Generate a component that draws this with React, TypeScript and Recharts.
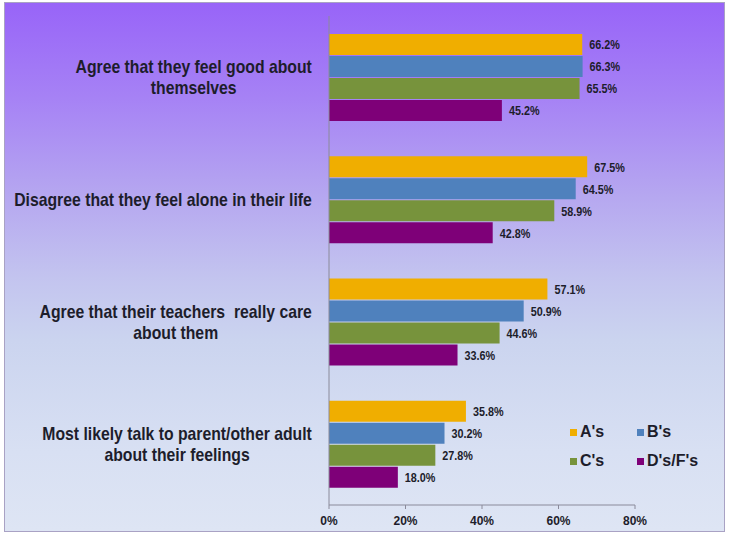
import React from "react";
import { BarChart, Bar, XAxis, YAxis, LabelList, Legend } from "recharts";

const categories = [
  "Agree that they feel good about\nthemselves",
  "Disagree that they feel alone in their life",
  "Agree that their teachers  really care\nabout them",
  "Most likely talk to parent/other adult\nabout their feelings",
];
const seriesNames = ["A's", "B's", "C's", "D's/F's"];
const aValues = [66.2, 67.5, 57.1, 35.8];
const bValues = [66.3, 64.5, 50.9, 30.2];
const cValues = [65.5, 58.9, 44.6, 27.8];
const dfValues = [45.2, 42.8, 33.6, 18.0];
const xTicks = [0, 20, 40, 60, 80];

const seriesKeys = ["a", "b", "c", "df"];
const seriesColors = ["#F0AE00", "#4F81BD", "#77933C", "#7E0078"];

const data = categories.map((category, i) => ({
  category,
  a: aValues[i],
  b: bValues[i],
  c: cValues[i],
  df: dfValues[i],
}));

const TEXT = "#1d1d2b";
const FONT = '"Liberation Sans", Arial, sans-serif';
const CAT_FONT_SIZE = 19;
const CAT_SCALE = 0.83;
const LBL_FONT_SIZE = 13.5;
const LBL_SCALE = 0.8;

let ctx: CanvasRenderingContext2D | null = null;
function measure(text: string, font: string): number {
  if (!ctx) ctx = document.createElement("canvas").getContext("2d");
  if (!ctx) return text.length * 9;
  ctx.font = font;
  return ctx.measureText(text).width;
}

const CategoryTick = (props: any) => {
  const { x, y, payload } = props;
  const lines: string[] = String(payload.value).split("\n");
  const font = `bold ${CAT_FONT_SIZE}px ${FONT}`;
  const blockW = Math.max(...lines.map((l) => measure(l, font))) * CAT_SCALE;
  const cx = x - blockW / 2;
  const lh = 21;
  const startY = -((lines.length - 1) * lh) / 2;
  return (
    <g transform={`translate(${cx},${y}) scale(${CAT_SCALE},1)`}>
      <text
        x={0}
        y={startY}
        textAnchor="middle"
        fill={TEXT}
        style={{ fontFamily: FONT, fontWeight: "bold", fontSize: CAT_FONT_SIZE, whiteSpace: "pre" }}
      >
        {lines.map((l, i) => (
          <tspan key={i} x={0} y={startY + i * lh} dy="0.36em">
            {l}
          </tspan>
        ))}
      </text>
    </g>
  );
};

const BarValueLabel = (props: any) => {
  const { x, y, width, height, value } = props;
  const lx = Number(x) + Number(width) + 7;
  const ly = Number(y) + Number(height) / 2;
  return (
    <g transform={`translate(${lx},${ly}) scale(${LBL_SCALE},1)`}>
      <text
        x={0}
        y={0}
        dy="0.36em"
        textAnchor="start"
        fill={TEXT}
        style={{ fontFamily: FONT, fontWeight: "bold", fontSize: LBL_FONT_SIZE }}
      >
        {`${Number(value).toFixed(1)}%`}
      </text>
    </g>
  );
};

const renderLegend = () => (
  <div
    style={{
      display: "grid",
      gridTemplateColumns: "67px 80px",
      rowGap: "11px",
      fontFamily: FONT,
      fontWeight: "bold",
      fontSize: 16,
      color: TEXT,
    }}
  >
    {seriesNames.map((name, i) => (
      <div key={name} style={{ display: "flex", alignItems: "center", height: 18 }}>
        <span
          style={{
            display: "inline-block",
            width: 7,
            height: 7,
            background: seriesColors[i],
            marginRight: 3,
          }}
        />
        <span>{name}</span>
      </div>
    ))}
  </div>
);

export default function App() {
  return (
    <div style={{ position: "absolute", left: 0, top: 0, width: 729, height: 533, background: "#ffffff" }}>
      <div
        style={{
          position: "absolute",
          left: 4,
          top: 2,
          width: 719,
          height: 528,
          border: "1.5px solid #a9a2c4",
          background:
            "linear-gradient(to bottom, #9864F8 0%, #A682F5 18%, #B5A6F0 36%, #C3C4EF 52%, #CBD4EF 64%, #D8E0F3 85%, #DEE5F4 100%)",
        }}
      />
      <div style={{ position: "absolute", left: 0, top: 0 }}>
        <BarChart
          width={729}
          height={533}
          data={data}
          layout="vertical"
          margin={{ top: 16, right: 94, bottom: 8, left: 0 }}
          barSize={21}
          barGap={1}
        >
          <XAxis
            type="number"
            domain={[0, 80]}
            ticks={xTicks}
            tickFormatter={(v: number) => `${v}%`}
            axisLine={{ stroke: "#8a8a9a" }}
            tickLine={{ stroke: "#8a8a9a" }}
            tickSize={4}
            tickMargin={7}
            height={20}
            tick={{ fill: TEXT, fontFamily: FONT, fontWeight: "bold", fontSize: 12 }}
          />
          <YAxis
            type="category"
            dataKey="category"
            width={329}
            axisLine={{ stroke: "#8a8a9a" }}
            tickLine={false}
            tickMargin={11}
            tick={<CategoryTick />}
            interval={0}
          />
          <Legend
            layout="horizontal"
            verticalAlign="middle"
            align="center"
            content={renderLegend}
            wrapperStyle={{ left: 570, top: 423, width: 160 }}
          />
          {seriesKeys.map((k, i) => (
            <Bar key={k} dataKey={k} name={seriesNames[i]} fill={seriesColors[i]} isAnimationActive={false}>
              <LabelList dataKey={k} content={<BarValueLabel />} />
            </Bar>
          ))}
        </BarChart>
      </div>
    </div>
  );
}
